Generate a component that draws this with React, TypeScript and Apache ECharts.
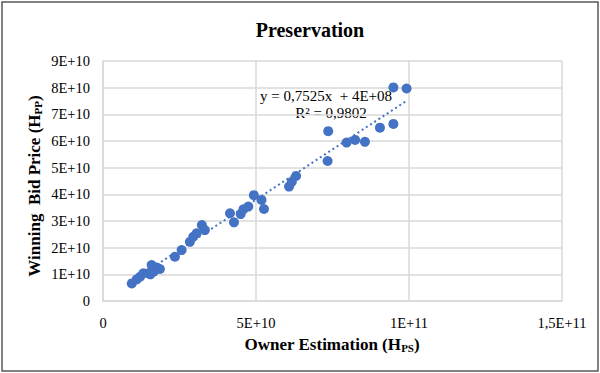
import React, { useEffect, useRef } from "react";
import * as echarts from "echarts";

// Values in units of 1E+10
const UNIT = 1e10;
const ownerEstimation = [0.94, 1.10, 1.21, 1.32, 1.48, 1.55, 1.59, 1.65, 1.75, 1.86, 2.35, 2.57, 2.84, 2.95, 3.06, 3.23, 3.33, 4.15, 4.28, 4.50, 4.59, 4.75, 4.93, 5.18, 5.26, 6.08, 6.17, 6.31, 7.34, 7.36, 7.96, 8.24, 8.56, 9.05, 9.49, 9.49, 9.92];
const winningBid = [0.66, 0.81, 0.91, 1.04, 1.04, 1.00, 1.35, 1.10, 1.26, 1.20, 1.66, 1.91, 2.22, 2.41, 2.54, 2.85, 2.66, 3.29, 2.95, 3.26, 3.44, 3.54, 3.97, 3.79, 3.45, 4.29, 4.47, 4.69, 5.25, 6.37, 5.94, 6.04, 5.97, 6.50, 6.64, 8.01, 7.97];

const trendSlope = 0.7525;
const trendIntercept = 4e8;
const trendLabel = "y = 0,7525x  + 4E+08";
const r2Label = "R² = 0,9802";

const xTickLabels: Record<string, string> = { "0": "0", "50000000000": "5E+10", "100000000000": "1E+11", "150000000000": "1,5E+11" };
const yTickLabels = ["0", "1E+10", "2E+10", "3E+10", "4E+10", "5E+10", "6E+10", "7E+10", "8E+10", "9E+10"];

const FONT = "Liberation Serif";
const BLUE = "#4472C4";

const nameRich = {
  b: { fontFamily: FONT, fontWeight: "bold", fontSize: 17, lineHeight: 20, fill: "#000", color: "#000" },
  s: { fontFamily: FONT, fontWeight: "bold", fontSize: 11, lineHeight: 20, fill: "#000", color: "#000", padding: [7, 0, 0, 0] },
};

export default function App() {
  const ref = useRef<HTMLDivElement>(null);
  useEffect(() => {
    if (!ref.current) return;
    const chart = echarts.init(ref.current, undefined, { renderer: "svg" });
    const points = ownerEstimation.map((x, i) => [x * UNIT, winningBid[i] * UNIT]);
    const xs = ownerEstimation.map((v) => v * UNIT);
    const xMin = Math.min(...xs);
    const xMax = Math.max(...xs);
    const trend = [
      [xMin, trendSlope * xMin + trendIntercept],
      [xMax, trendSlope * xMax + trendIntercept],
    ];
    chart.setOption({
      animation: false,
      backgroundColor: "#ffffff",
      textStyle: { fontFamily: FONT },
      title: {
        text: "Preservation",
        left: 305,
        textAlign: "center",
        top: 15,
        textStyle: { fontFamily: FONT, fontWeight: "bold", fontSize: 20, color: "#000" },
      },
      grid: { left: 103, right: 38, top: 61, bottom: 72 },
      xAxis: {
        type: "value",
        min: 0,
        max: 1.5e11,
        interval: 5e10,
        axisLine: { show: true, lineStyle: { color: "#d9d9d9", width: 1.5 } },
        axisTick: { show: false },
        splitLine: { show: true, lineStyle: { color: "#d9d9d9", width: 1.5 } },
        axisLabel: {
          margin: 14,
          fontFamily: FONT,
          fontSize: 14.5,
          color: "#000",
          formatter: (v: number) => xTickLabels[String(v)] ?? String(v),
        },
      },
      yAxis: {
        type: "value",
        min: 0,
        max: 9e10,
        interval: 1e10,
        axisLine: { show: true, lineStyle: { color: "#d9d9d9", width: 1.5 } },
        axisTick: { show: false },
        splitLine: { show: true, lineStyle: { color: "#d9d9d9", width: 1.5 } },
        axisLabel: {
          margin: 13,
          fontFamily: FONT,
          fontSize: 14.5,
          color: "#000",
          formatter: (v: number) => yTickLabels[Math.round(v / 1e10)] ?? String(v),
        },
      },
      series: [
        {
          type: "line",
          data: trend,
          symbol: "none",
          silent: true,
          lineStyle: { color: BLUE, width: 2, type: [2, 3] },
          z: 1,
        },
        {
          type: "scatter",
          data: points,
          symbol: "circle",
          symbolSize: 10,
          itemStyle: { color: BLUE, opacity: 1 },
          z: 2,
        },
      ],
      graphic: [
        {
          type: "rect",
          shape: { x: 2, y: 2, width: 596, height: 369 },
          style: { fill: "none", stroke: "#595959", lineWidth: 1.5 },
          silent: true,
        },
        {
          type: "text",
          x: 326,
          y: 96,
          style: { text: trendLabel, fontFamily: FONT, fontSize: 15, fill: "#000", align: "center", verticalAlign: "middle" },
        },
        {
          type: "text",
          x: 331,
          y: 113,
          style: { text: r2Label, fontFamily: FONT, fontSize: 15, fill: "#000", align: "center", verticalAlign: "middle" },
        },
        {
          type: "text",
          x: 332,
          y: 344,
          style: {
            text: "{b|Owner Estimation (H}{s|PS}{b|)}",
            rich: nameRich,
            align: "center",
            verticalAlign: "middle",
          },
        },
        {
          type: "text",
          x: 34,
          y: 186,
          rotation: Math.PI / 2,
          style: {
            text: "{b|Winning  Bid Price (H}{s|PP}{b|)}",
            rich: nameRich,
            align: "center",
            verticalAlign: "middle",
          },
        },
      ],
    });
    return () => chart.dispose();
  }, []);
  return <div ref={ref} style={{ width: 600, height: 373, position: "absolute", left: 0, top: 0 }} />;
}
